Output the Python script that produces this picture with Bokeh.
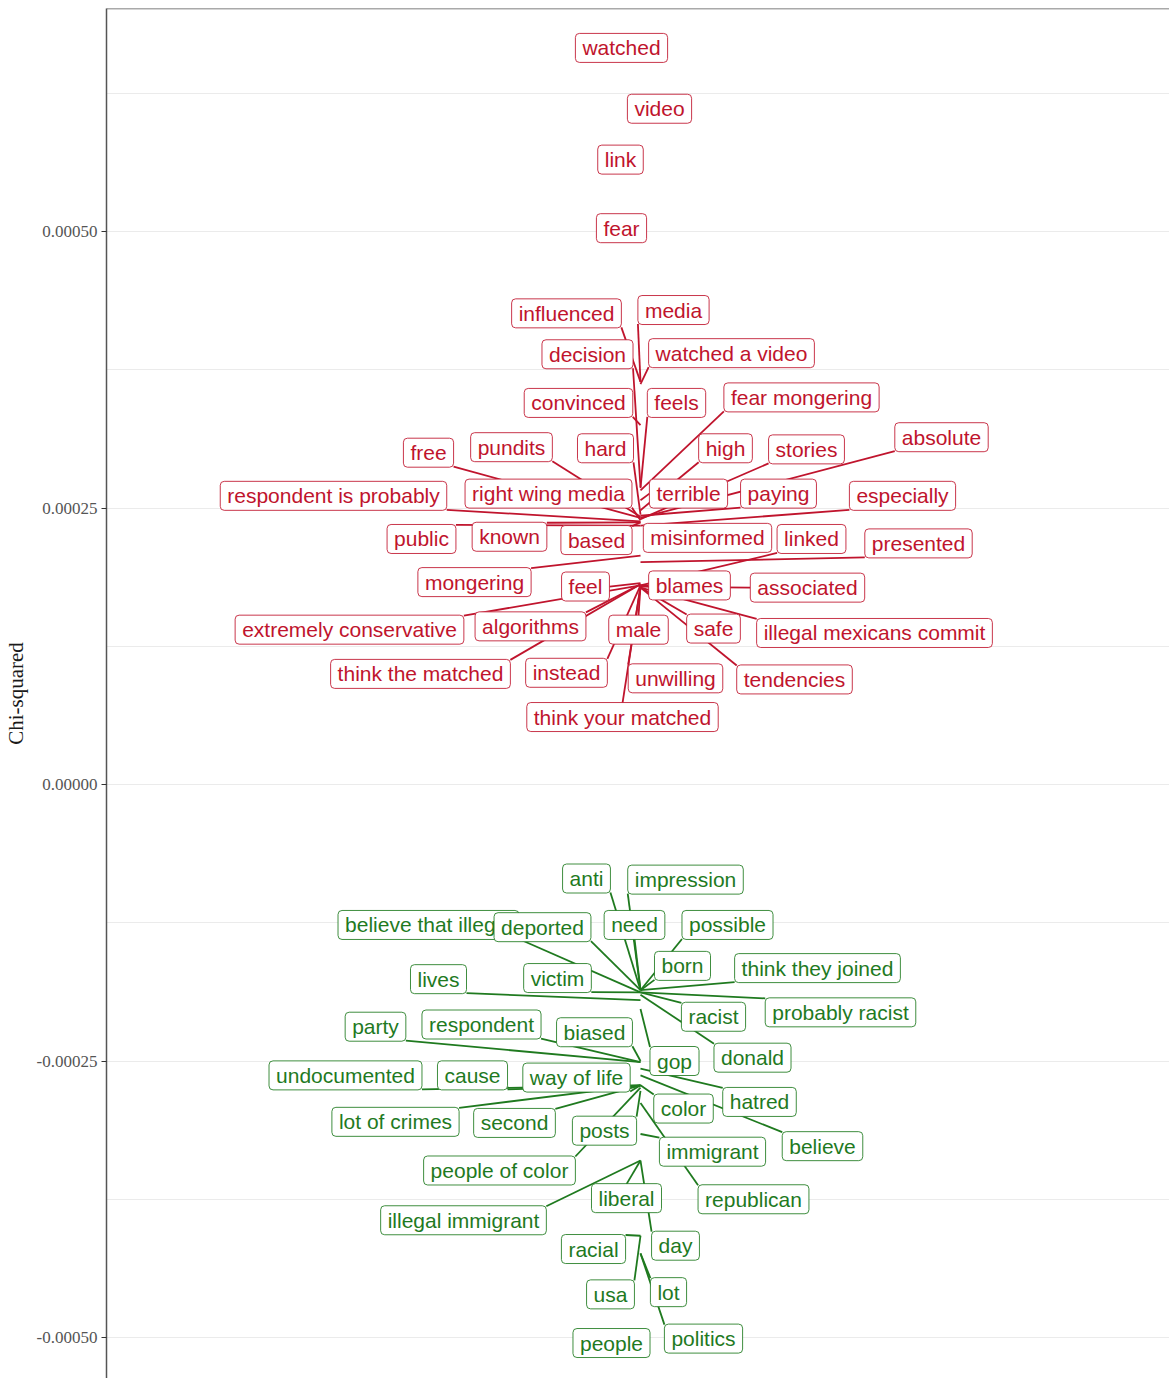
from bokeh.plotting import figure
from bokeh.models import ColumnDataSource, Range1d, SingleIntervalTicker, PrintfTickFormatter, Span
from bokeh.embed import file_html
from bokeh.resources import INLINE
from bokeh.core.properties import value

# ---------------- data ----------------
# chi-squared value of each term (point position) and the repelled label position
red_words = ["watched", "video", "link", "fear", "influenced", "media", "decision",
             "watched a video", "convinced", "feels", "fear mongering", "free", "pundits",
             "hard", "high", "stories", "absolute", "respondent is probably",
             "right wing media", "terrible", "paying", "especially", "public", "known",
             "based", "misinformed", "linked", "presented", "mongering", "feel", "blames",
             "associated", "extremely conservative", "algorithms", "male", "safe",
             "illegal mexicans commit", "think the matched", "instead", "unwilling",
             "tendencies", "think your matched"]
red_chisq = [6.66e-4, 6.11e-4, 5.65e-4, 5.03e-4, 3.64e-4, 3.64e-4, 2.69e-4,
             3.62e-4, 3.25e-4, 2.68e-4, 2.66e-4, 2.41e-4, 2.42e-4,
             2.44e-4, 2.48e-4, 2.40e-4, 2.41e-4, 2.38e-4,
             2.39e-4, 2.57e-4, 2.43e-4, 2.34e-4, 2.34e-4, 2.37e-4,
             2.37e-4, 2.10e-4, 1.80e-4, 2.01e-4, 2.07e-4, 1.82e-4, 1.80e-4,
             1.79e-4, 1.80e-4, 1.81e-4, 1.79e-4, 1.78e-4,
             1.78e-4, 1.81e-4, 1.80e-4, 1.79e-4,
             1.78e-4, 1.79e-4]
red_label_dx = [-0.19, 0.19, -0.20, -0.19, -0.74, 0.33, -0.53,
                0.91, -0.62, 0.36, 1.61, -2.12, -1.29,
                -0.35, 0.85, 1.66, 3.01, -3.07,
                -0.92, 0.48, 1.38, 2.62, -2.19, -1.31,
                -0.44, 0.67, 1.71, 2.78, -1.66, -0.55, 0.49,
                1.67, -2.91, -1.10, -0.02, 0.73,
                2.34, -2.20, -0.74, 0.35,
                1.54, -0.18]
red_label_y = [6.66e-4, 6.11e-4, 5.65e-4, 5.03e-4, 4.26e-4, 4.29e-4, 3.89e-4,
               3.90e-4, 3.45e-4, 3.45e-4, 3.50e-4, 3.00e-4, 3.05e-4,
               3.04e-4, 3.04e-4, 3.03e-4, 3.14e-4, 2.61e-4,
               2.63e-4, 2.63e-4, 2.63e-4, 2.61e-4, 2.22e-4, 2.24e-4,
               2.21e-4, 2.23e-4, 2.22e-4, 2.18e-4, 1.83e-4, 1.79e-4, 1.80e-4,
               1.78e-4, 1.40e-4, 1.43e-4, 1.40e-4, 1.41e-4,
               1.37e-4, 1.00e-4, 1.01e-4, 0.96e-4,
               0.95e-4, 0.61e-4]

green_words = ["anti", "impression", "believe that illegal", "deported", "need", "possible",
               "born", "think they joined", "lives", "victim", "racist", "probably racist",
               "party", "respondent", "biased", "donald", "gop", "undocumented", "cause",
               "way of life", "hatred", "color", "believe", "lot of crimes", "second",
               "posts", "immigrant", "people of color", "republican", "liberal",
               "illegal immigrant", "day", "racial", "usa", "lot", "people", "politics"]
green_chisq = [-1.86e-4, -1.86e-4, -1.88e-4, -1.86e-4, -1.86e-4, -1.86e-4,
               -1.86e-4, -1.86e-4, -1.95e-4, -1.88e-4, -1.88e-4, -1.88e-4,
               -2.51e-4, -2.51e-4, -2.50e-4, -1.90e-4, -2.03e-4, -2.72e-4, -2.72e-4,
               -2.72e-4, -2.57e-4, -2.72e-4, -2.63e-4, -2.72e-4, -2.72e-4,
               -2.77e-4, -3.16e-4, -2.74e-4, -2.88e-4, -3.40e-4,
               -3.40e-4, -3.40e-4, -4.08e-4, -4.08e-4, -4.24e-4, -5.05e-4, -4.24e-4]
green_label_dx = [-0.54, 0.45, -2.12, -0.98, -0.06, 0.87,
                  0.42, 1.77, -2.02, -0.83, 0.73, 2.00,
                  -2.65, -1.59, -0.46, 1.12, 0.34, -2.95, -1.68,
                  -0.64, 1.19, 0.43, 1.82, -2.45, -1.26,
                  -0.36, 0.72, -1.41, 1.13, -0.14,
                  -1.77, 0.35, -0.47, -0.30, 0.28, -0.29, 0.63]
green_label_y = [-0.85e-4, -0.86e-4, -1.27e-4, -1.29e-4, -1.27e-4, -1.27e-4,
                 -1.64e-4, -1.66e-4, -1.76e-4, -1.75e-4, -2.10e-4, -2.06e-4,
                 -2.19e-4, -2.17e-4, -2.24e-4, -2.47e-4, -2.50e-4, -2.63e-4, -2.63e-4,
                 -2.65e-4, -2.87e-4, -2.93e-4, -3.27e-4, -3.05e-4, -3.06e-4,
                 -3.13e-4, -3.32e-4, -3.49e-4, -3.75e-4, -3.74e-4,
                 -3.94e-4, -4.17e-4, -4.20e-4, -4.61e-4, -4.59e-4, -5.05e-4, -5.01e-4]

RED = "#c0142d"
GREEN = "#1f7a1f"

# ---------------- layout constants ----------------
FIG_W, FIG_H = 1169, 1378
LEFT, TOP = 106, 8
X0, X1 = -5.34, 5.29
Y0, Y1 = -5.3707e-4, 7.0163e-4
FONT_PX = 21
PAD_X, PAD_Y = 7, 3
HALF_H = 14

frame_w = FIG_W - LEFT
frame_h = FIG_H - TOP
px_x = frame_w / (X1 - X0)
px_y = frame_h / (Y1 - Y0)

# Helvetica / Liberation Sans advance widths (1/1000 em)
WIDTHS = dict(zip("abcdefghijklmnopqrstuvwxyz ",
                  [556, 556, 500, 556, 556, 278, 556, 556, 222, 222, 500, 222, 833,
                   556, 556, 556, 556, 333, 500, 278, 556, 500, 722, 500, 500, 500, 278]))


def half_width(s):
    return sum(WIDTHS.get(c, 556) for c in s) * FONT_PX / 1000 / 2 + PAD_X


def build(words, chisq, ldx, ly, color):
    seg = dict(x0=[], y0=[], x1=[], y1=[], color=[])
    for w, c, lx, yy in zip(words, chisq, ldx, ly):
        hw = half_width(w)
        dxp = (0 - lx) * px_x
        dyp = (c - yy) * px_y
        if abs(dxp) <= hw and abs(dyp) <= HALF_H:
            continue
        best = None
        for sx in (-1, 0, 1):
            for sy in (-1, 0, 1):
                if sx == 0 and sy == 0:
                    continue
                cx, cy = sx * hw, sy * HALF_H
                d = ((dxp - cx) ** 2 + (dyp - cy) ** 2) ** 0.5
                if best is None or d < best[0]:
                    best = (d, cx, cy)
        if best[0] < 6:
            continue
        seg["x0"].append(lx + best[1] / px_x)
        seg["y0"].append(yy + best[2] / px_y)
        seg["x1"].append(0.0)
        seg["y1"].append(c)
        seg["color"].append(color)
    lab = dict(x=list(ldx), y=list(ly), word=list(words), color=[color] * len(words))
    return seg, lab


rs, rl = build(red_words, red_chisq, red_label_dx, red_label_y, RED)
gs, gl = build(green_words, green_chisq, green_label_dx, green_label_y, GREEN)
seg = {k: rs[k] + gs[k] for k in rs}
lab = {k: rl[k] + gl[k] for k in rl}

p = figure(width=FIG_W, height=FIG_H, output_backend="svg", toolbar_location=None,
           x_axis_type=None, x_range=Range1d(X0, X1), y_range=Range1d(Y0, Y1),
           min_border_left=LEFT, min_border_top=TOP, min_border_bottom=0, min_border_right=0)
p.outline_line_color = None
p.background_fill_color = "white"

p.segment(x0="x0", y0="y0", x1="x1", y1="y1", line_color="color", line_width=1.8,
          source=ColumnDataSource(seg))
p.text(x="x", y="y", text="word", source=ColumnDataSource(lab),
       text_font=value("Liberation Sans"), text_font_size=f"{FONT_PX}px",
       text_color="color", text_align="center", text_baseline="middle",
       background_fill_color="white", border_line_color="color", border_line_width=1,
       border_line_alpha=0.85, padding=(PAD_X, PAD_Y), border_radius=4)

p.add_layout(Span(location=Y1, dimension="width", line_color="#555555", line_width=1.5))

ax = p.yaxis[0]
ax.ticker = SingleIntervalTicker(interval=0.00025, num_minor_ticks=2)
ax.formatter = PrintfTickFormatter(format="%.5f")
ax.axis_label = "Chi-squared"
ax.axis_label_text_font = "Liberation Serif"
ax.axis_label_text_font_style = "normal"
ax.axis_label_text_font_size = "21px"
ax.axis_label_text_color = "#1a1a1a"
ax.axis_label_standoff = 6
ax.major_label_text_font = "Liberation Serif"
ax.major_label_text_font_size = "17px"
ax.major_label_text_color = "#555555"
ax.major_label_standoff = 4
ax.axis_line_color = "#555555"
ax.axis_line_width = 1.5
ax.major_tick_line_color = "#333333"
ax.major_tick_out = 5
ax.major_tick_in = 0
ax.minor_tick_line_color = None

p.ygrid.grid_line_color = "#ebebeb"
p.ygrid.grid_line_width = 1
p.ygrid.minor_grid_line_color = "#ebebeb"
p.ygrid.minor_grid_line_width = 1

open("out.html", "w").write(file_html(p, INLINE))
